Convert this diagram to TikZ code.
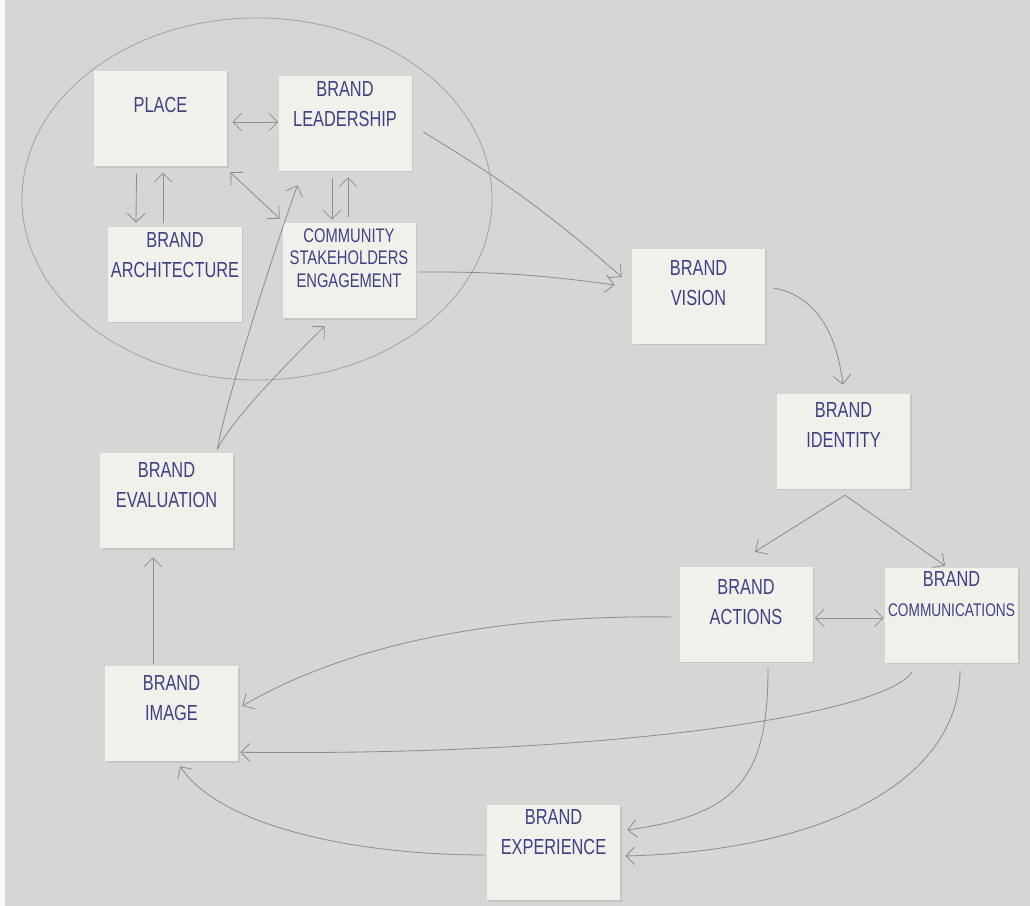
\documentclass[tikz,border=0pt]{standalone}
\usepackage{fontspec}
\newfontfamily\hand[FakeStretch=0.75]{Liberation Sans}
\usetikzlibrary{arrows.meta,positioning,calc,shadows}

\definecolor{paper}{HTML}{D6D7D5}
\definecolor{card}{HTML}{F1F0EB}
\definecolor{ink}{HTML}{3C4282}
\definecolor{pencil}{HTML}{8E8F8D}

% text of a sticky note sits near its top edge
\newcommand{\card}[2][2.5mm]{\parbox[c][23.75mm][t]{33mm}{\centering\vspace*{#1}#2}}

\tikzset{
  note/.style={rectangle, fill=card, inner sep=0pt, minimum width=33.25mm,
    minimum height=23.75mm, text=ink, font=\hand\fontsize{15.5}{21}\selectfont,
    drop shadow={shadow xshift=0.4mm, shadow yshift=-0.3mm, opacity=0.2}},
  link/.style={draw=pencil, line width=0.6pt, ->},
  >={Straight Barb[length=2.2mm,width=4.4mm]},
}

\begin{document}
\begin{tikzpicture}[x=0.25mm, y=0.25mm]
\useasboundingbox (0,0) rectangle (1030,906);
\fill[paper] (0,0) rectangle (1030,906);
\fill[white!85!paper] (0,0) rectangle (5,906);

% ring round the first group
\draw[pencil!70!paper, line width=0.6pt] (257,707) ellipse [x radius=235, y radius=181];

% notes
\node[note] (place) at (160.5,787) {\card[6.5mm]{PLACE}};
\node[note] (lead) at (345,782.5) {\card[1.5mm]{BRAND\\LEADERSHIP}};
\node[note] (arch) at (175,631.5) {\card[1.5mm]{BRAND\\ARCHITECTURE}};
\node[note] (community) at (349,635) {\card[1.25mm]{\fontsize{14}{16}\selectfont COMMUNITY\\STAKEHOLDERS\\ENGAGEMENT}};
\node[note] (vision) at (698.5,609.5) {\card[3mm]{BRAND\\VISION}};
\node[note] (identity) at (843.5,464.5) {\card[2.25mm]{BRAND\\IDENTITY}};
\node[note] (evaluation) at (166.5,405) {\card[2.25mm]{BRAND\\EVALUATION}};
\node[note] (actions) at (746,291.5) {\card[3.25mm]{BRAND\\ACTIONS}};
\node[note] (comms) at (951.5,290.5) {\card[1mm]{BRAND\\{\fontsize{13}{21}\selectfont COMMUNICATIONS}}};
\node[note] (image) at (171.5,192) {\card[2.25mm]{BRAND\\IMAGE}};
\node[note] (experience) at (553.5,53) {\card[1mm]{BRAND\\EXPERIENCE}};

% inside the ring
\draw[link,<->] ($(place.east)+(5,-3)$) -- ($(lead.west)+(0,1.5)$);
\draw[link] ($(place.south)+(-24,-7)$) -- ($(arch.north)+(-39,4)$);
\draw[link] ($(arch.north)+(-12,4)$) -- ($(place.south)+(2.5,-6)$);
\draw[link,<->] ($(place.south east)+(3,-5.5)$) -- ($(community.north west)+(-2.5,4.5)$);
\draw[link] ($(lead.south)+(-13,-7)$) -- ($(community.north)+(-17,3.5)$);
\draw[link] ($(community.north)+(-1,6.5)$) -- ($(lead.south)+(3,-6)$);

% out to vision and down the right side
\draw[link] ($(lead.east)+(11.5,-8.5)$) to[bend left=5] ($(vision.west)+(-10,19.5)$);
\draw[link] ($(community.east)+(2.5,-1)$) to[bend left=4] ($(vision.west)+(-17,11.5)$);
\draw[link] ($(vision.east)+(8,8.5)$) to[out=-10, in=97] ($(identity.north)+(-0.5,9)$);
\coordinate (fork) at ($(identity.south)+(1.5,-6)$);
\draw[link] (fork) -- ($(actions.north)+(9,15)$);
\draw[link] (fork) -- ($(comms.north)+(-6.5,2)$);
\draw[link,<->] ($(actions.east)+(2,-3.5)$) -- ($(comms.west)+(-1,-2.5)$);

% towards image and experience
\draw[link] ($(actions.west)+(-7.5,-2.5)$) .. controls +(-150,2) and +(120,70) .. ($(image.east)+(4,8)$);
\draw[link] ($(comms.south)+(-39.5,-9)$) .. controls +(-32,-44) and +(360,-4) .. ($(image.south east)+(2,9.5)$);
\draw[link] ($(actions.south)+(22,-6)$) .. controls +(0,-110) and +(110,15) .. ($(experience.east)+(7,23)$);
\draw[link] ($(comms.south)+(8.5,-7)$) .. controls +(0,-110) and +(200,5) .. ($(experience.east)+(5,-3)$);
\draw[link] ($(experience.west)+(-2,-2)$) .. controls +(-130,0) and +(40,-60) .. ($(image.south)+(8.5,-4.5)$);

% back up to the ring
\draw[link] ($(image.north)+(-18.5,2.5)$) -- ($(evaluation.south)+(-13.5,-8.5)$);
\draw[link] ($(evaluation.north east)+(-16,3.5)$) .. controls +(8,50) and +(-12,-30) .. ($(lead.south west)+(19.5,-14)$);
\draw[link] ($(evaluation.north east)+(-16,3.5)$) .. controls +(11,25) and +(-45,-44) .. ($(community.south west)+(42.5,-7.5)$);
\end{tikzpicture}
\end{document}
